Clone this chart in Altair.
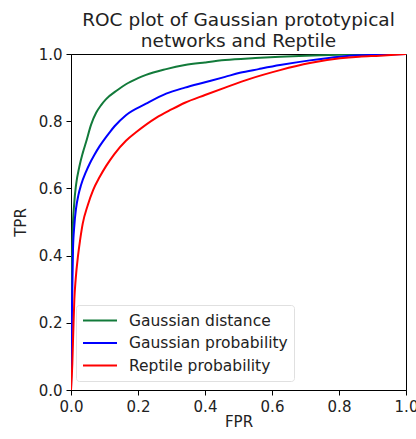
import altair as alt
import pandas as pd

series_names = ["Gaussian distance", "Gaussian probability", "Reptile probability"]
series_colors = ["#127a3a", "#0000ff", "#ff0000"]

gd_fpr = [0, 0.002, 0.005, 0.01, 0.015, 0.025, 0.035, 0.045, 0.06, 0.075, 0.09, 0.104, 0.139, 0.164, 0.2, 0.224, 0.284, 0.34, 0.4, 0.46, 0.55, 0.624, 0.7, 0.773, 0.85, 0.92, 1.0]
gd_tpr = [0, 0.3, 0.47, 0.56, 0.61, 0.665, 0.705, 0.738, 0.79, 0.825, 0.848, 0.865, 0.893, 0.91, 0.928, 0.938, 0.955, 0.967, 0.975, 0.982, 0.988, 0.992, 0.995, 0.997, 0.999, 1.0, 1.0]

gp_fpr = [0, 0.003, 0.006, 0.01, 0.015, 0.022, 0.03, 0.045, 0.055, 0.07, 0.085, 0.104, 0.114, 0.13, 0.164, 0.224, 0.284, 0.34, 0.4, 0.46, 0.504, 0.56, 0.624, 0.713, 0.803, 0.86, 0.922, 1.0]
gp_tpr = [0, 0.25, 0.42, 0.49, 0.54, 0.58, 0.61, 0.65, 0.672, 0.70, 0.725, 0.752, 0.765, 0.785, 0.818, 0.852, 0.882, 0.9, 0.916, 0.932, 0.944, 0.955, 0.967, 0.981, 0.992, 0.996, 0.998, 1.0]

rp_fpr = [0, 0.004, 0.007, 0.01, 0.014, 0.021, 0.027, 0.035, 0.05, 0.066, 0.085, 0.105, 0.13, 0.164, 0.194, 0.254, 0.3, 0.34, 0.4, 0.46, 0.534, 0.624, 0.713, 0.803, 0.86, 0.922, 1.0]
rp_tpr = [0, 0.08, 0.18, 0.27, 0.33, 0.4, 0.445, 0.495, 0.55, 0.595, 0.633, 0.667, 0.703, 0.742, 0.767, 0.81, 0.835, 0.855, 0.878, 0.9, 0.926, 0.952, 0.973, 0.987, 0.992, 0.995, 1.0]

tick_values = [0.0, 0.2, 0.4, 0.6, 0.8, 1.0]

rows = []
for name, fx, fy in zip(series_names, [gd_fpr, gp_fpr, rp_fpr], [gd_tpr, gp_tpr, rp_tpr]):
    for i, (a, b) in enumerate(zip(fx, fy)):
        rows.append({"series": name, "order": i, "FPR": a, "TPR": b})
df = pd.DataFrame(rows)

FONT = "DejaVu Sans"

chart = alt.Chart(df).mark_line(strokeWidth=2, clip=True, interpolate="monotone").encode(
    x=alt.X("FPR:Q", scale=alt.Scale(domain=[0, 1], nice=False),
            axis=alt.Axis(values=tick_values, format=".1f", title="FPR", titlePadding=0)),
    y=alt.Y("TPR:Q", scale=alt.Scale(domain=[0, 1], nice=False),
            axis=alt.Axis(values=tick_values, format=".1f", title="TPR", titlePadding=10)),
    color=alt.Color("series:N",
                    scale=alt.Scale(domain=series_names, range=series_colors),
                    sort=series_names,
                    legend=alt.Legend(title=None, orient="none", legendX=5, legendY=251,
                                      symbolType="stroke", symbolSize=1156, symbolStrokeWidth=2,
                                      clipHeight=19, rowPadding=3.5,
                                      labelFont=FONT, labelFontSize=15.5, labelColor="#222222",
                                      labelOffset=11,
                                      fillColor="white", strokeColor="#e0e0e0",
                                      cornerRadius=3, padding=6)),
    order="order:Q",
).properties(
    width=335, height=336,
    title=alt.TitleParams(text=["ROC plot of Gaussian prototypical", "networks and Reptile"],
                          font=FONT, fontSize=18.5, fontWeight="normal", color="#222222",
                          anchor="middle", lineHeight=21, offset=-3),
    autosize=alt.AutoSizeParams(type="none"),
    padding={"left": 71, "top": 54, "right": 10, "bottom": 49},
).configure_view(
    stroke="black", strokeWidth=1
).configure_axis(
    grid=False, domainColor="black", tickColor="black", tickSize=5,
    labelFont=FONT, labelFontSize=15, labelColor="#222222", labelPadding=4,
    titleFont=FONT, titleFontSize=15, titleFontWeight="normal", titleColor="#222222",
).configure_axisX(labelFlush=False).configure_axisY(labelFlush=False)

chart.save("out.html", embed_options={"renderer": "svg", "actions": False})
